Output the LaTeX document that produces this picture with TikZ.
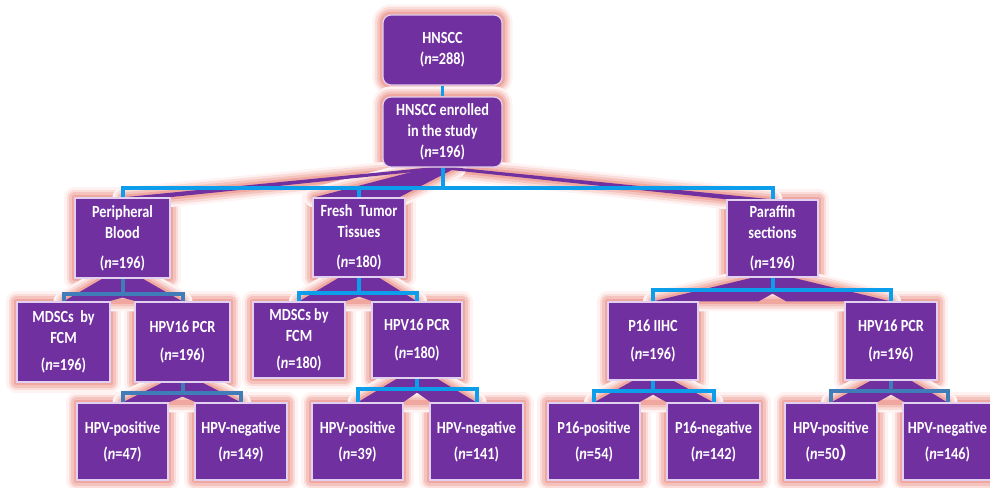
\documentclass[tikz,border=0pt]{standalone}
\usepackage{fontspec}
\setmainfont{Carlito}[FakeStretch=0.84]
\newfontfamily\cjk{Noto Sans CJK SC}
\usetikzlibrary{calc}
\pgfdeclarelayer{bg}
\pgfdeclarelayer{mid}
\pgfsetlayers{bg,mid,main}
\definecolor{pur}{HTML}{7030A0}
\definecolor{bbl}{HTML}{0C9DEB}
\definecolor{sbl}{HTML}{3F7CB8}
\definecolor{gA}{HTML}{FEF3F2}
\definecolor{gB}{HTML}{FADCD8}
\definecolor{gC}{HTML}{F5C3BD}
\definecolor{gD}{HTML}{EFA79F}
\definecolor{edgec}{HTML}{E2D0F0}
\tikzset{
  box/.style={fill=pur, draw=edgec, line width=1.2pt, text=white,
    font=\fontsize{17}{21}\selectfont\bfseries, align=center, inner sep=0pt},
  rbox/.style={box, rounded corners=8pt},
  bl/.style={draw=bbl, line width=4pt},
  sl/.style={draw=sbl, line width=4pt},
  fanfill/.style={fill=pur},
}
\newcommand\Bx[7]{%
  \node[#1, minimum width={(#5-#3)*1pt}, minimum height={(#6-#4)*1pt}] (#2)
    at ({(#3+#5)/2},{(#4+#6)/2}) {#7};}
\newcommand\Glow[2][]{%
  \begin{pgfonlayer}{bg}
    \path[draw=gA, line width=20pt, line join=round, #1] #2;
    \path[draw=gB, line width=15pt, line join=round, #1] #2;
    \path[draw=gC, line width=10pt, line join=round, #1] #2;
    \path[draw=gD, line width=5pt, line join=round, #1] #2;
  \end{pgfonlayer}}
% parent, left child, right child, drop, line style
\newcommand\Fan[5]{%
  \begin{pgfonlayer}{mid}
    \fill[fanfill] ($(#1.south)+(-20,0)$) -- ($(#1.south)+(20,0)$) -- (#3.north)
      -- ($(#1.south |- #3.north)+(14,0)$) -- ($(#1.south)+(0,#4+4)$)
      -- ($(#1.south |- #3.north)+(-14,0)$) -- (#2.north) -- cycle;
  \end{pgfonlayer}
  \Glow{($(#1.south)+(-20,0)$) -- ($(#1.south)+(20,0)$) -- (#3.north) -- (#2.north) -- cycle}
  \draw[#5] (#1.south) -- ++(0,#4) coordinate (j#1);
  \draw[#5] (#2.north) |- (j#1) -| (#3.north);}
\begin{document}
\begin{tikzpicture}[x=1pt, y=-1pt]
\useasboundingbox (0,0) rectangle (990,487);
\clip (0,0) rectangle (990,487);
% nodes
\Bx{rbox}{top}{383}{15}{502}{85}{HNSCC\\(\textit{n}=288)}
\Bx{rbox}{enr}{383}{97}{502}{167}{HNSCC enrolled\\in the study\\(\textit{n}=196)}
\Bx{box}{pb}{75}{198}{170}{278}{Peripheral\\Blood\\[9pt](\textit{n}=196)}
\Bx{box}{ft}{313}{198}{405}{277}{Fresh~ Tumor\\Tissues\\[9pt](\textit{n}=180)}
\Bx{box}{ps}{727}{200}{818}{277}{Paraffin\\sections\\[9pt](\textit{n}=196)}
\Bx{box}{mA}{17}{302}{110}{382}{MDSCs~ by\\FCM\\[6pt](\textit{n}=196)}
\Bx{box}{cA}{135}{302}{230}{382}{HPV16 PCR\\[7pt](\textit{n}=196)}
\Bx{box}{mB}{253}{302}{345}{378}{MDSCs by\\FCM\\[6pt](\textit{n}=180)}
\Bx{box}{cB}{372}{302}{462}{378}{HPV16 PCR\\[7pt](\textit{n}=180)}
\Bx{box}{pC}{608}{302}{698}{380}{P16 IIHC\\[7pt](\textit{n}=196)}
\Bx{box}{cC}{845}{302}{937}{380}{HPV16 PCR\\[7pt](\textit{n}=196)}
\Bx{box}{a1}{77}{403}{168}{480}{HPV-positive\\[5pt](\textit{n}=47)}
\Bx{box}{a2}{195}{403}{287}{480}{HPV-negative\\[5pt](\textit{n}=149)}
\Bx{box}{b1}{312}{403}{403}{480}{HPV-positive\\[5pt](\textit{n}=39)}
\Bx{box}{b2}{430}{403}{523}{480}{HPV-negative\\[5pt](\textit{n}=141)}
\Bx{box}{p1}{548}{403}{640}{480}{P16-positive\\[5pt](\textit{n}=54)}
\Bx{box}{p2}{667}{403}{760}{480}{P16-negative\\[5pt](\textit{n}=142)}
\Bx{box}{c1}{785}{403}{877}{480}{HPV-positive\\[5pt](\textit{n}=50{\cjk ）}}
\Bx{box}{c2}{903}{403}{992}{480}{HPV-negative\\[5pt](\textit{n}=146)}
% glows of boxes
\Glow[rounded corners=8pt]{(top.south west) rectangle (top.north east)}
\Glow[rounded corners=8pt]{(enr.south west) rectangle (enr.north east)}
\foreach \n in {pb,ft,ps,mA,cA,mB,cB,pC,cC,a1,a2,b1,b2,p1,p2,c1,c2}{
  \Glow{(\n.south west) rectangle (\n.north east)}}
% top connector
\draw[bl, line width=3pt] (top.south) -- (enr.north);
% level 1 fan
\begin{pgfonlayer}{mid}
  \fill[fanfill] ($(enr.south)+(-14,0)$) -- ($(enr.south)+(14,0)$) -- ($(pb.north)+(45,0)$) -- (pb.north) -- cycle;
  \fill[fanfill] ($(enr.south)+(-14,0)$) -- ($(enr.south)+(14,0)$) -- ($(ft.north)+(40,0)$) -- ($(ft.north)+(-45,0)$) -- cycle;
  \fill[fanfill] ($(enr.south)+(-14,0)$) -- ($(enr.south)+(14,0)$) -- (ps.north) -- ($(ps.north)+(-45,0)$) -- cycle;
\end{pgfonlayer}
\Glow{($(enr.south)+(-14,0)$) -- ($(enr.south)+(14,0)$) -- (ps.north) -- ($(ps.north)+(-45,0)$) -- cycle}
\Glow{($(enr.south)+(-14,0)$) -- ($(enr.south)+(14,0)$) -- ($(pb.north)+(45,0)$) -- (pb.north) -- cycle}
\Glow{($(enr.south)+(-14,0)$) -- ($(enr.south)+(14,0)$) -- ($(ft.north)+(40,0)$) -- ($(ft.north)+(-45,0)$) -- cycle}
\draw[bl] (enr.south) -- ++(0,20) coordinate (j0);
\draw[bl] (pb.north) |- (j0) -| (ps.north);
\draw[bl] (ft.north) -- (ft.north |- j0);
% lower fans
\Fan{pb}{mA}{cA}{15}{sl}
\Fan{ft}{mB}{cB}{15}{bl}
\Fan{ps}{pC}{cC}{12}{bl}
\Fan{cA}{a1}{a2}{10}{sl}
\Fan{cB}{b1}{b2}{10}{bl}
\Fan{pC}{p1}{p2}{10}{bl}
\Fan{cC}{c1}{c2}{10}{sl}
\end{tikzpicture}
\end{document}
